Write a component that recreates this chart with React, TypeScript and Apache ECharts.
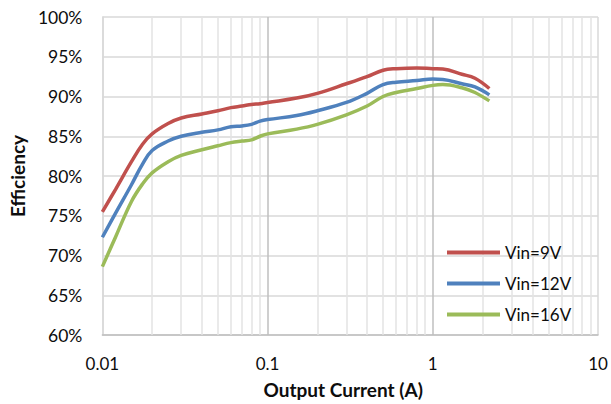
import React, { useEffect, useRef } from "react";
import * as echarts from "echarts";

const currents = [0.01, 0.012, 0.015, 0.0175, 0.02, 0.025, 0.03, 0.04, 0.05, 0.06, 0.07, 0.08, 0.09, 0.1, 0.15, 0.2, 0.3, 0.4, 0.5, 0.6, 0.8, 1.0, 1.15, 1.5, 1.8, 2.2];
const vin9 = [75.5, 78.3, 81.8, 84.0, 85.3, 86.6, 87.3, 87.8, 88.2, 88.6, 88.8, 89.0, 89.1, 89.25, 89.8, 90.4, 91.6, 92.5, 93.3, 93.5, 93.6, 93.5, 93.45, 92.8, 92.3, 91.0];
const vin12 = [72.3, 75.3, 78.9, 81.5, 83.2, 84.4, 85.0, 85.5, 85.8, 86.2, 86.3, 86.5, 86.9, 87.1, 87.6, 88.2, 89.25, 90.4, 91.5, 91.8, 92.0, 92.2, 92.15, 91.6, 91.2, 90.2];
const vin16 = [68.6, 72.3, 76.8, 79.0, 80.4, 81.8, 82.6, 83.3, 83.8, 84.2, 84.4, 84.55, 85.0, 85.3, 85.9, 86.5, 87.7, 88.8, 90.0, 90.5, 91.0, 91.4, 91.5, 91.1, 90.5, 89.45];
const seriesNames = ["Vin=9V", "Vin=12V", "Vin=16V"];
const minorGridValues = [0.02, 0.03, 0.04, 0.05, 0.06, 0.07, 0.08, 0.09, 0.2, 0.3, 0.4, 0.5, 0.6, 0.7, 0.8, 0.9, 2, 3, 4, 5, 6, 7, 8, 9];

const colors = ["#C0504D", "#4F81BD", "#9BBB59"];
const FONT = "Lato, 'Open Sans', sans-serif";
const TEXT = "#0d0d0d";

export default function App() {
  const ref = useRef<HTMLDivElement>(null);
  useEffect(() => {
    if (!ref.current) return;
    const chart = echarts.init(ref.current, undefined, { renderer: "svg" });
    const all = [vin9, vin12, vin16];
    chart.setOption({
      animation: false,
      textStyle: { fontFamily: FONT },
      grid: { left: 100, right: 13, top: 17, bottom: 66, containLabel: false },
      legend: {
        orient: "vertical",
        left: 442,
        top: 239,
        icon: "rect",
        itemWidth: 53,
        itemHeight: 4,
        itemGap: 14,
        textStyle: { fontSize: 17, color: TEXT, fontFamily: FONT },
        data: seriesNames,
      },
      xAxis: {
        type: "log",
        logBase: 10,
        min: 0.01,
        max: 10,
        name: "Output Current (A)",
        nameLocation: "middle",
        nameGap: 45,
        nameTextStyle: { fontSize: 19, fontWeight: "bold", color: TEXT, fontFamily: FONT, padding: [0, 14, 0, 0] },
        axisLine: { show: true, lineStyle: { color: "#bfbfbf", width: 1.5 } },
        axisTick: { show: false },
        axisLabel: {
          fontSize: 17,
          color: TEXT,
          margin: 20,
          formatter: (v: number) => String(Number(v.toPrecision(3))),
        },
        splitLine: {
          show: true,
          lineStyle: { color: ["#d9d9d9", "#bfbfbf", "#bfbfbf", "#d9d9d9"], width: 1.5 },
        },
      },
      yAxis: {
        type: "value",
        min: 60,
        max: 100,
        interval: 5,
        name: "Efficiency",
        nameLocation: "middle",
        nameGap: 75,
        nameTextStyle: { fontSize: 19, fontWeight: "bold", color: TEXT, fontFamily: FONT },
        axisLine: { show: true, lineStyle: { color: "#d9d9d9", width: 1.5 } },
        axisTick: { show: false },
        axisLabel: { fontSize: 17.5, color: TEXT, margin: 20, formatter: (v: number) => `${v}%` },
        splitLine: { show: true, lineStyle: { color: "#d9d9d9", width: 1.5 } },
      },
      series: seriesNames.map((name, i) => ({
        name,
        type: "line",
        symbol: "none",
        smooth: 0.4,
        z: 3,
        lineStyle: { color: colors[i], width: 3.5 },
        itemStyle: { color: colors[i] },
        data: currents.map((c, j) => [c, all[i][j]]),
        markLine:
          i === 0
            ? {
                silent: true,
                z: 1,
                symbol: ["none", "none"],
                label: { show: false },
                lineStyle: { color: "#e3e3e3", width: 1.5, type: "solid" },
                emphasis: { disabled: true },
                data: minorGridValues.map((v) => ({ xAxis: v })),
              }
            : undefined,
      })),
    });
    return () => chart.dispose();
  }, []);
  return (
    <div
      ref={ref}
      style={{ position: "absolute", left: 0, top: 0, width: 611, height: 404 }}
    />
  );
}
